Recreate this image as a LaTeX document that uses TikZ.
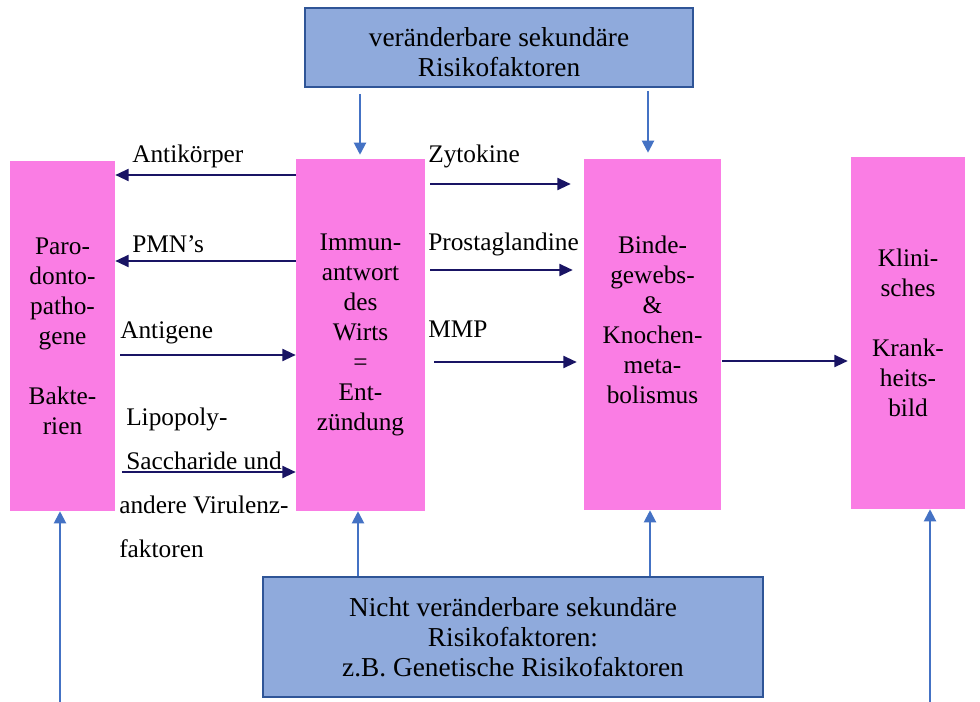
\documentclass[tikz,border=0pt]{standalone}
\usepackage{fontspec}
\setmainfont{Liberation Serif}
\usetikzlibrary{arrows.meta}
\definecolor{boxpink}{RGB}{250,125,228}
\definecolor{boxblue}{RGB}{143,170,220}
\definecolor{boxedge}{RGB}{47,85,151}
\definecolor{navyline}{RGB}{25,20,100}
\definecolor{blueline}{RGB}{68,114,196}
\tikzset{
  pinkbox/.style={fill=boxpink, inner sep=0pt, align=center, font=\fontsize{19}{22.5}\selectfont},
  riskbox/.style={fill=boxblue, draw=boxedge, line width=1.2pt, inner sep=0pt, align=center, font=\fontsize{20.5}{22.5}\selectfont},
  flowlabel/.style={anchor=base west, inner sep=0pt, font=\fontsize{19}{22.5}\selectfont},
  navyarrow/.style={draw=navyline, line width=1.5pt, -{Triangle[length=10pt,width=9pt]}},
  bluearrow/.style={draw=blueline, line width=1.5pt, -{Triangle[length=9pt,width=9pt]}}
}
\begin{document}
\begin{tikzpicture}[x=0.75pt,y=0.75pt,yscale=-1,xscale=1]
\useasboundingbox (0,0) rectangle (980,702);

% risk factor boxes
\node [riskbox, minimum width=291pt, minimum height=59.25pt] (top) at (499,47.5) {};
\node [align=center, inner sep=0pt, font=\fontsize{20.5}{22.5}\selectfont] (toptxt) at (499,52) {veränderbare sekundäre\\Risikofaktoren};
\node [riskbox, minimum width=375pt, minimum height=90pt] (bottom) at (513,637) {Nicht veränderbare sekundäre\\Risikofaktoren:\\z.B. Genetische Risikofaktoren};

% pink boxes
\node [pinkbox, minimum width=78.75pt, minimum height=262.5pt] (bak) at (62.5,336) {Paro-\\donto-\\patho-\\gene\\[22.5pt]Bakte-\\rien};
\node [pinkbox, minimum width=96.75pt, minimum height=264pt] (wirt) at (360.5,335) {Immun-\\antwort\\des\\Wirts\\=\\Ent-\\zündung};
\node [pinkbox, minimum width=102.75pt, minimum height=263.25pt] (knochen) at (652.5,334.5) {};
\node [align=center, inner sep=0pt, font=\fontsize{19}{22.5}\selectfont] (knochentxt) at (652.5,320) {Binde-\\gewebs-\\\&\\Knochen-\\meta-\\bolismus};
\node [pinkbox, minimum width=85.5pt, minimum height=264pt] (bild) at (908,333) {Klini-\\sches\\[22.5pt]Krank-\\heits-\\bild};

% free ends
\coordinate (bakfoot) at (60,702);
\coordinate (bildfoot) at (930,702);

% navy arrows
\draw [navyarrow] (wirt.west |- 0,175) -- (bak.east |- 0,175);
\draw [navyarrow] (wirt.west |- 0,261) -- (bak.east |- 0,261);
\draw [navyarrow, shorten <=3.75pt] (bak.east |- 0,355) -- (wirt.west |- 0,355);
\draw [navyarrow, shorten <=5pt] (bak.east |- 0,472) -- (wirt.west |- 0,472);
\draw [navyarrow, shorten <=3.75pt, shorten >=9.75pt] (wirt.east |- 0,184) -- (knochen.west |- 0,184);
\draw [navyarrow, shorten <=3.75pt, shorten >=8.25pt] (wirt.east |- 0,270) -- (knochen.west |- 0,270);
\draw [navyarrow, shorten <=6.75pt, shorten >=5.25pt] (wirt.east |- 0,362) -- (knochen.west |- 0,362);
\draw [navyarrow, shorten <=0.75pt, shorten >=2.25pt] (knochen.east |- 0,361) -- (bild.west |- 0,361);

% blue arrows
\draw [bluearrow, shorten <=4.5pt, shorten >=3pt] (top.south -| 360,0) -- (wirt.north -| 360,0);
\draw [bluearrow, shorten <=2.25pt, shorten >=4.5pt] (top.south -| 648,0) -- (knochen.north -| 648,0);
\draw [bluearrow] (bottom.north -| 358,0) -- (wirt.south -| 358,0);
\draw [bluearrow] (bottom.north -| 650,0) -- (knochen.south -| 650,0);
\draw [bluearrow] (bakfoot) -- (bakfoot |- bak.south);
\draw [bluearrow] (bildfoot) -- (bildfoot |- bild.south);

% Text Node
\node [flowlabel] (antik) at (132,163) {Antikörper};
% Text Node
\node [flowlabel] (pmn) at (132,252) {PMN’s};
% Text Node
\node [flowlabel] (antig) at (120,338) {Antigene};
% Text Node (base = last line)
\node [flowlabel, align=left, font=\fontsize{19}{33}\selectfont] (lps) at (119,557) {\hspace{5.25pt}Lipopoly-\\\hspace{5.25pt}Saccharide und\\andere Virulenz-\\faktoren};
% Text Node
\node [flowlabel] (zyto) at (428,163) {Zytokine};
% Text Node
\node [flowlabel] (prosta) at (428,250) {Prostaglandine};
% Text Node
\node [flowlabel] (mmp) at (428,337) {MMP};

\end{tikzpicture}
\end{document}
